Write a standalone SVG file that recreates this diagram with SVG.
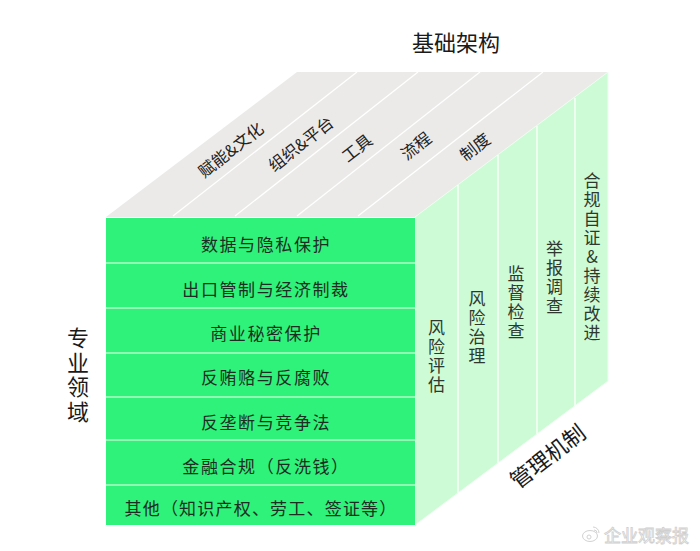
<svg xmlns="http://www.w3.org/2000/svg" width="700" height="551" viewBox="0 0 700 551">
  <style>
    text { font-family: "Noto Sans CJK SC", "Noto Sans", sans-serif; }
    .title { font-size: 22px; fill: #1a1a1a; }
    .row { font-size: 17px; fill: #1d2d22; text-anchor: middle; letter-spacing: 1.6px; }
    .top { font-size: 16.5px; fill: #222222; text-anchor: middle; }
    .vert { writing-mode: vertical-rl; text-orientation: upright; }
    .side { font-size: 17px; fill: #2f382f; letter-spacing: 2px; }
    .divider { stroke: #ffffff; stroke-width: 1.3; fill: none; }
    .rowline { stroke: #b5f7c9; stroke-width: 1.6; }
  </style>
  <rect width="700" height="551" fill="#ffffff"/>

  <!-- Faces -->
  <g id="top-face">
    <polygon points="106,217 297,72 608,72 415,217" fill="#ebeae8"/>
  </g>
  <g id="right-face">
    <polygon points="415,217 608,72 608,381 415,525" fill="#cdfbd5" stroke="#ecfdef" stroke-width="1"/>
  </g>
  <g id="front-face">
    <rect x="106" y="218" width="309" height="307" fill="#2ef27a"/>
  </g>

  <!-- Divider lines -->
  <g id="connectors">
    <line class="divider" x1="173" y1="216" x2="357" y2="72"/>
    <line class="divider" x1="235" y1="216" x2="418" y2="72"/>
    <line class="divider" x1="297" y1="216" x2="480" y2="72"/>
    <line class="divider" x1="358" y1="216" x2="543" y2="72"/>
    <line class="divider" x1="458" y1="185" x2="458" y2="493"/>
    <line class="divider" x1="498" y1="155" x2="498" y2="463"/>
    <line class="divider" x1="537" y1="126" x2="537" y2="434"/>
    <line class="divider" x1="575" y1="98" x2="575" y2="406"/>
    <line class="rowline" x1="106" y1="263" x2="415" y2="263"/>
    <line class="rowline" x1="106" y1="308" x2="415" y2="308"/>
    <line class="rowline" x1="106" y1="353" x2="415" y2="353"/>
    <line class="rowline" x1="106" y1="397" x2="415" y2="397"/>
    <line class="rowline" x1="106" y1="440" x2="415" y2="440"/>
    <line class="rowline" x1="106" y1="485" x2="415" y2="485"/>
  </g>

  <!-- Axis titles -->
  <g id="title-infrastructure">
    <text class="title" x="456" y="51" text-anchor="middle">基础架构</text>
  </g>
  <g id="title-domains">
    <text class="title vert" x="78" y="327" font-size="21" style="letter-spacing:2.5px">专业领域</text>
  </g>
  <g id="title-mechanism">
    <text class="title" font-size="21" text-anchor="middle" transform="translate(548,457) rotate(-37.5)" y="7.5">管理机制</text>
  </g>

  <!-- Top face labels -->
  <g id="top-1"><text class="top" transform="translate(231,150) rotate(-38)" y="6">赋能&amp;文化</text></g>
  <g id="top-2"><text class="top" transform="translate(301,144) rotate(-38)" y="6">组织&amp;平台</text></g>
  <g id="top-3"><text class="top" transform="translate(357,148) rotate(-38)" y="6">工具</text></g>
  <g id="top-4"><text class="top" transform="translate(416,146) rotate(-38)" y="6">流程</text></g>
  <g id="top-5"><text class="top" transform="translate(475,147) rotate(-38)" y="6">制度</text></g>

  <!-- Front rows -->
  <g id="row-1"><text class="row" x="266" y="250.5">数据与隐私保护</text></g>
  <g id="row-2"><text class="row" x="266" y="296">出口管制与经济制裁</text></g>
  <g id="row-3"><text class="row" x="266" y="340">商业秘密保护</text></g>
  <g id="row-4"><text class="row" x="266" y="384">反贿赂与反腐败</text></g>
  <g id="row-5"><text class="row" x="266" y="428.5">反垄断与竞争法</text></g>
  <g id="row-6"><text class="row" x="266" y="472.5">金融合规（反洗钱）</text></g>
  <g id="row-7"><text class="row" x="261" y="514.5" style="letter-spacing:1.2px">其他（知识产权、劳工、签证等）</text></g>

  <!-- Right face columns -->
  <g id="col-1"><text class="side vert" x="436.5" y="319">风险评估</text></g>
  <g id="col-2"><text class="side vert" x="477" y="290.5">风险治理</text></g>
  <g id="col-3"><text class="side vert" x="516" y="265.5">监督检查</text></g>
  <g id="col-4"><text class="side vert" x="554.5" y="240.5">举报调查</text></g>
  <g id="col-5"><text class="side vert" x="592" y="172">合规自证&amp;持续改进</text></g>

  <!-- Watermark -->
  <g id="watermark" opacity="0.8">
    <ellipse cx="590" cy="536" rx="7.5" ry="5.5" fill="#ffffff" stroke="#c8c8c8" stroke-width="1"/>
    <circle cx="589" cy="537" r="2" fill="none" stroke="#c8c8c8" stroke-width="1"/>
    <path d="M593,527 a6,6 0 0 1 6,6 M594,530 a3,3 0 0 1 3,3" fill="none" stroke="#c8c8c8" stroke-width="1"/>
    <text x="646.5" y="542" font-size="17" text-anchor="middle" fill="#ffffff" stroke="#c4c4c4" stroke-width="0.8">企业观察报</text>
  </g>
</svg>
